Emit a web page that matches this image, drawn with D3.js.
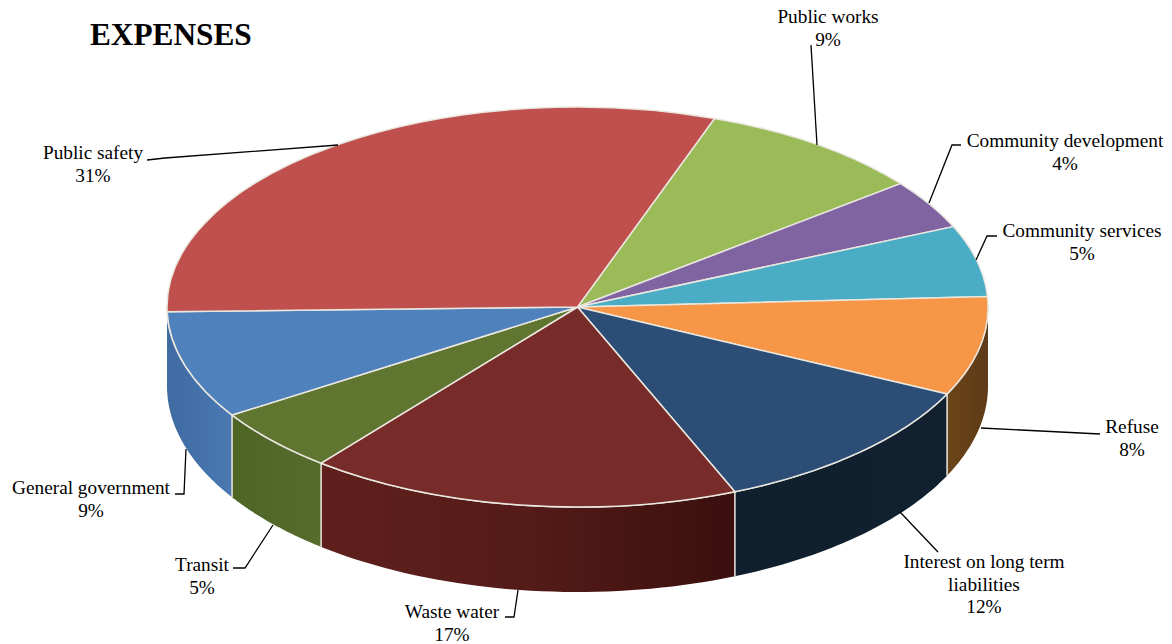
<!DOCTYPE html>
<html>
<head>
<meta charset="utf-8">
<script src="https://cdn.jsdelivr.net/npm/d3@7"></script>
<style>
  html, body { margin: 0; padding: 0; background: #fff; }
  svg { display: block; }
  text { font-family: "Liberation Serif", serif; fill: #000; }
</style>
</head>
<body>
<div id="chart"></div>
<script>
// slices clockwise, starting from the public works edge
const categories = ['Public works', 'Community development', 'Community services', 'Refuse',
  'Interest on long term liabilities', 'Waste water', 'Transit', 'General government', 'Public safety'];
// shares, they are not quite the rounded labels
const shares = [9.0, 4.0, 5.75, 8.0, 11.57, 17.0, 5.18, 8.7, 30.8];
const percentLabels = ['9%', '4%', '5%', '8%', '12%', '17%', '5%', '9%', '31%'];

const topColors = ['#9bbb59', '#8064a2', '#4bacc6', '#f79646', '#2c4d75', '#772c2a', '#5f7530', '#4f81bd', '#c0504d'];
const wallStops = [
  null, null, null,
  ['#6b4519', '#5e3b17'],
  ['#0f1f2e', '#11212f'],
  ['#5f201d', '#541b18', '#3a0f0d'],
  ['#4f6526', '#566c2c'],
  ['#3f6ba3', '#4a78b0'],
  null
];

const width = 1172, height = 644;
const cx = 577.5, cy = 307, rx = 410.5, ry = 200;
// the lower rim is a bit rounder than the top one, the picture has perspective
const depth = 79, bottomRy = 206;
const startDeg = 19.5;
const edgeColor = '#e9e7df';

// label lines, centre x and first baseline
const labelLines = [
  ['Public works', percentLabels[0]],
  ['Community development', percentLabels[1]],
  ['Community services', percentLabels[2]],
  ['Refuse', percentLabels[3]],
  ['Interest on long term', 'liabilities', percentLabels[4]],
  ['Waste water', percentLabels[5]],
  ['Transit', percentLabels[6]],
  ['General government', percentLabels[7]],
  ['Public safety', percentLabels[8]]
];
const labelPos = [[828, 23], [1065, 147], [1082, 237], [1132, 433], [984, 568], [452, 618], [202, 571], [91, 494], [93, 159]];
const leaders = [
  [[811, 45], [817, 145]],
  [[961, 145], [952, 145], [929, 203]],
  [[997, 236], [987, 236], [976, 260]],
  [[981, 428], [1100, 434]],
  [[900, 512], [938, 552]],
  [[518, 590], [514, 617], [505, 617]],
  [[273, 525], [245, 568], [233, 568]],
  [[186, 449], [184, 494], [175, 494]],
  [[147, 160], [165, 158], [338, 145]]
];

const svg = d3.select('#chart').append('svg').attr('width', width).attr('height', height);
const defs = svg.append('defs');

const pie = d3.pie().sort(null)
  .startAngle(startDeg * Math.PI / 180)
  .endAngle((startDeg + 360) * Math.PI / 180);
const slices = pie(shares);

const px = a => cx + rx * Math.sin(a);
const py = a => cy - ry * Math.cos(a);
const pyLow = a => cy + depth - bottomRy * Math.cos(a);

// walls, only the front half of the disc shows
const wallLine = d3.line();
const walls = svg.append('g');
slices.forEach((s, i) => {
  if (!wallStops[i]) return;
  const a0 = Math.max(s.startAngle, Math.PI / 2);
  // general government stops just short of the left extreme, its wall runs on to it
  const a1 = i === 7 ? Math.PI * 3 / 2 : Math.min(s.endAngle, Math.PI * 3 / 2);
  const steps = d3.range(0, 41).map(k => a0 + (a1 - a0) * k / 40);
  const upper = steps.map(a => [px(a), py(a)]);
  const lower = steps.map(a => [px(a), pyLow(a)]).reverse();
  const xs = d3.extent(upper, p => p[0]);
  const grad = defs.append('linearGradient').attr('id', 'wall' + i)
    .attr('gradientUnits', 'userSpaceOnUse')
    .attr('x1', xs[0]).attr('x2', xs[1]).attr('y1', 0).attr('y2', 0);
  wallStops[i].forEach((c, k) => {
    grad.append('stop').attr('offset', k / (wallStops[i].length - 1)).attr('stop-color', c);
  });
  walls.append('path')
    .attr('d', wallLine(upper.concat(lower)) + 'Z')
    .attr('fill', 'url(#wall' + i + ')');
  // rim along the top of the wall
  walls.append('path')
    .attr('d', wallLine(upper))
    .attr('fill', 'none').attr('stroke', edgeColor).attr('stroke-width', 1.5);
  // edges between neighbouring walls
  if (s.startAngle > Math.PI / 2) {
    walls.append('line')
      .attr('x1', px(s.startAngle)).attr('x2', px(s.startAngle))
      .attr('y1', py(s.startAngle)).attr('y2', pyLow(s.startAngle))
      .attr('stroke', edgeColor).attr('stroke-width', 1.5);
  }
});

// top face, a flat d3 arc squashed into an ellipse
const arc = d3.arc().innerRadius(0).outerRadius(rx);
svg.append('g')
  .attr('transform', `translate(${cx},${cy}) scale(1,${ry / rx})`)
  .selectAll('path')
  .data(slices)
  .enter()
  .append('path')
  .attr('d', arc)
  .attr('fill', (d, i) => topColors[i])
  .attr('stroke', edgeColor)
  .attr('stroke-width', 1.5)
  .attr('vector-effect', 'non-scaling-stroke');

// leader lines
svg.append('g').selectAll('path')
  .data(leaders)
  .enter()
  .append('path')
  .attr('d', d => wallLine(d))
  .attr('fill', 'none')
  .attr('stroke', '#000')
  .attr('stroke-width', 1.3);

// labels
const lineGap = 22.5;
const labels = svg.append('g').selectAll('text')
  .data(labelLines)
  .enter()
  .append('text')
  .attr('text-anchor', 'middle')
  .attr('font-size', 19.3);
labels.each(function (lines, i) {
  d3.select(this).selectAll('tspan')
    .data(lines)
    .enter()
    .append('tspan')
    .attr('x', labelPos[i][0])
    .attr('y', (d, k) => labelPos[i][1] + k * lineGap)
    .text(d => d);
});

svg.append('text')
  .attr('x', 90).attr('y', 45)
  .attr('font-size', 31.3)
  .attr('font-weight', 'bold')
  .text('EXPENSES');
</script>
</body>
</html>
